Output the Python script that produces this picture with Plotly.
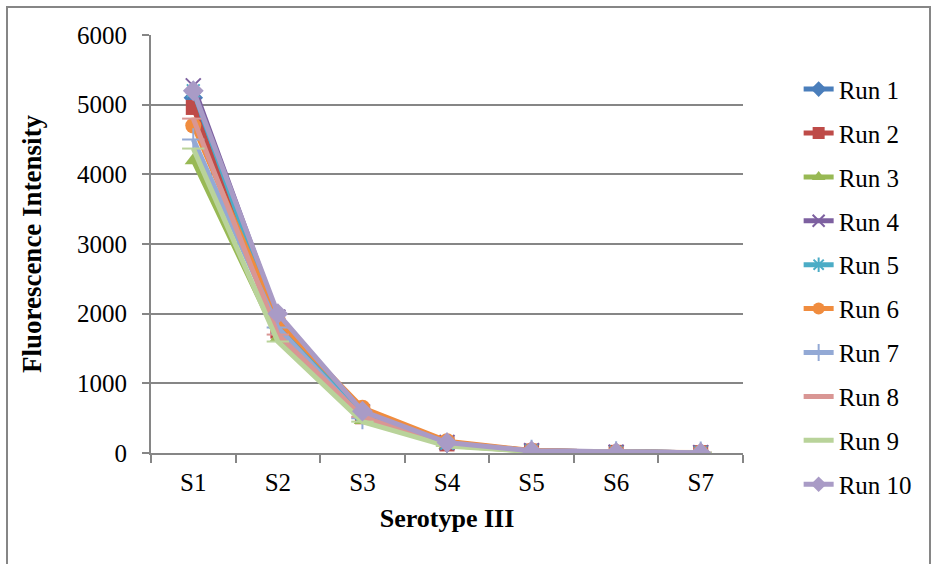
import plotly.graph_objects as go

categories = ["S1", "S2", "S3", "S4", "S5", "S6", "S7"]
run_names = ["Run 1", "Run 2", "Run 3", "Run 4", "Run 5", "Run 6", "Run 7", "Run 8", "Run 9", "Run 10"]

run1 = [5100, 1850, 560, 140, 30, 10, 5]
run2 = [4960, 1750, 520, 130, 28, 9, 5]
run3 = [4200, 1650, 470, 110, 25, 8, 4]
run4 = [5270, 1950, 590, 150, 32, 10, 5]
run5 = [5200, 1800, 560, 140, 30, 10, 5]
run6 = [4700, 1900, 650, 170, 35, 11, 6]
run7 = [4500, 1800, 500, 130, 28, 9, 5]
run8 = [4800, 1700, 520, 135, 28, 9, 5]
run9 = [4370, 1600, 450, 100, 22, 7, 4]
run10 = [5200, 2000, 600, 150, 30, 10, 5]

series = [run1, run2, run3, run4, run5, run6, run7, run8, run9, run10]
colors = ["#4A7EBB", "#BE4B48", "#98B954", "#7D60A0", "#4BACC6",
          "#F08C3E", "#93A9D5", "#D99694", "#B9D39A", "#A99BC6"]
symbols = ["diamond", "square", "triangle-up", "x-thin", "asterisk",
           "circle", "cross-thin", "line-ew", "line-ew", "diamond"]
sizes = [15, 15, 15, 15, 15, 16, 16, 16, 16, 16]

fig = go.Figure()
for name, vals, col, sym, sz in zip(run_names, series, colors, symbols, sizes):
    open_sym = sym in ("x-thin", "asterisk", "cross-thin", "line-ew")
    fig.add_trace(go.Scatter(
        x=categories, y=vals, name=name, mode="lines+markers",
        legendgroup=name,
        line=dict(color=col, width=5),
        marker=dict(symbol=sym, size=sz, color=col,
                    line=dict(color=col, width=2 if open_sym else 0)),
    ))

serif = "Liberation Serif, Times New Roman, serif"
grid = "#868686"

fig.update_layout(
    width=931, height=564,
    margin=dict(l=151, r=188, t=35, b=111),
    paper_bgcolor="white", plot_bgcolor="white",
    font=dict(family=serif, size=25, color="black"),
    showlegend=True,
    legend=dict(x=1.094, y=0.925, xanchor="left", yanchor="top",
                font=dict(family=serif, size=25),
                tracegroupgap=8.4, itemsizing="constant", maxheight=520,
                bgcolor="rgba(0,0,0,0)"),
    xaxis=dict(type="category", range=[-0.5, 6.5], showgrid=False,
               showline=True, linecolor=grid, linewidth=2,
               ticks="outside", tickson="boundaries", ticklen=8,
               tickcolor=grid, tickwidth=2, ticklabelstandoff=6,
               tickfont=dict(family=serif, size=25),
               title=dict(text="<b>Serotype III</b>", standoff=14,
                          font=dict(family=serif, size=26))),
    yaxis=dict(range=[0, 6000], dtick=1000, showgrid=True, gridcolor=grid,
               gridwidth=2, showline=True, linecolor=grid, linewidth=2,
               ticks="outside", ticklen=7, tickcolor=grid, tickwidth=2,
               zeroline=False, ticklabelstandoff=10,
               tickfont=dict(family=serif, size=25),
               title=dict(text="<b>Fluorescence Intensity</b>", standoff=28,
                          font=dict(family=serif, size=27))),
)

# outer chart-area border
pw, ph = 931 - 151 - 188, 564 - 35 - 111
fig.add_shape(type="rect", xref="paper", yref="paper",
              x0=(7 - 151) / pw, x1=(930 - 151) / pw,
              y0=(453 - 580) / ph, y1=(453 - 7) / ph,
              line=dict(color=grid, width=2), fillcolor="rgba(0,0,0,0)",
              layer="below")

fig.write_html("out.html")
